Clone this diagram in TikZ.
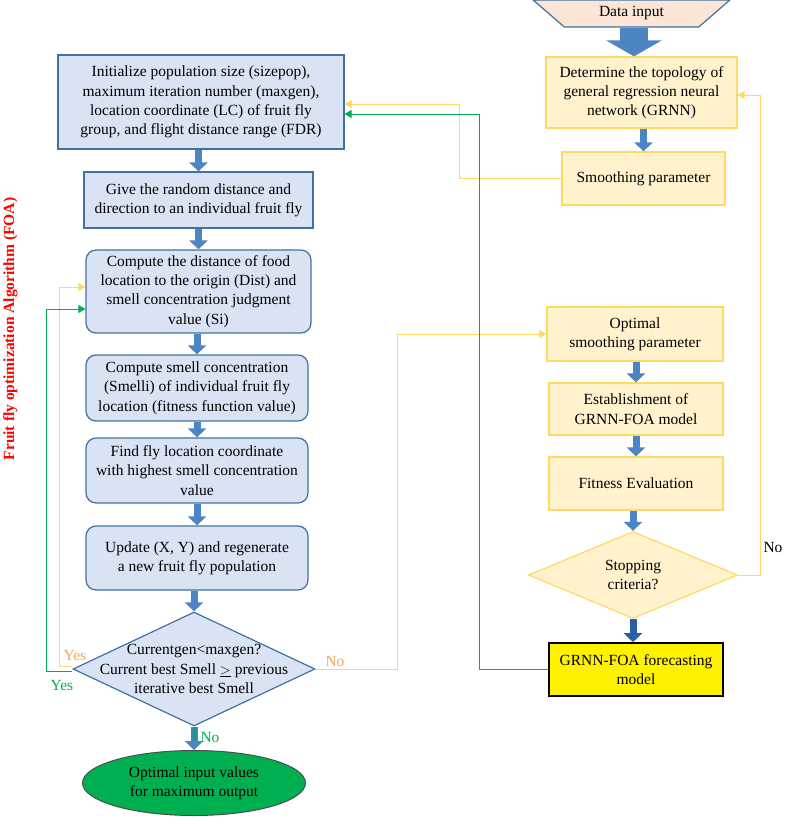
\documentclass[tikz,border=0pt]{standalone}
\usepackage{fontspec}
\setmainfont{Liberation Serif}
\usetikzlibrary{shapes.geometric,arrows.meta,positioning}
\definecolor{boxblue}{RGB}{218,227,243}
\definecolor{edgeblue}{RGB}{65,113,156}
\definecolor{arrblue}{RGB}{76,132,196}
\definecolor{darkarr}{RGB}{40,95,165}
\definecolor{boxyellow}{RGB}{255,242,204}
\definecolor{edgeyellow}{RGB}{255,217,102}
\definecolor{linegreen}{RGB}{0,176,80}
\definecolor{txtorange}{RGB}{244,165,95}
\definecolor{peach}{RGB}{251,229,214}
\tikzset{
    foabox/.style={draw=edgeblue, fill=boxblue, line width=1.2pt, align=center, inner sep=0pt},
    foaround/.style={foabox, rounded corners=10pt},
    grnnbox/.style={draw=edgeyellow, fill=boxyellow, line width=1.2pt, align=center, inner sep=0pt},
    flowarr/.style={line width=7pt, draw=arrblue, -{Triangle[width=18pt,length=9pt]}},
    yline/.style={draw=edgeyellow, line width=0.9pt, -{Triangle[width=8pt,length=7pt]}},
    gline/.style={draw=linegreen, line width=0.9pt, -{Triangle[width=8pt,length=7pt]}},
}

\begin{document}
\begin{tikzpicture}[x=1pt, y=-1pt, font=\fontsize{15.5}{19.3}\selectfont]
\useasboundingbox (0,0) rectangle (784,824);

% left column: fruit fly optimization
\node[rotate=90, text=red, font=\bfseries\fontsize{15.5}{17}\selectfont] (foa) at (10.5,329) {Fruit fly optimization Algorithm (FOA)};
\node[foabox, minimum width=286pt, minimum height=94pt] (init) at (201,102) {Initialize population size (sizepop),\\ maximum iteration number (maxgen),\\ location coordinate (LC) of fruit fly\\ group, and flight distance range (FDR)};
\node[foabox, minimum width=229pt, minimum height=56pt] (give) at (198.5,200) {Give the random distance and\\ direction to an individual fruit fly};
\node[foaround, minimum width=225pt, minimum height=83pt] (cdist) at (198.5,291.5) {Compute the distance of food\\ location to the origin (Dist) and\\ smell concentration judgment\\ value (Si)};
\node[foaround, minimum width=222pt, minimum height=66pt] (csmell) at (197,388) {Compute smell concentration\\ (Smelli) of individual fruit fly\\ location (fitness function value)};
\node[foaround, minimum width=222pt, minimum height=65pt] (find) at (197,470.5) {Find fly location coordinate\\ with highest smell concentration\\ value};
\node[foaround, minimum width=222pt, minimum height=64pt] (update) at (197,558) {Update (X, Y) and regenerate\\ a new fruit fly population};
\node[diamond, draw=edgeblue, fill=boxblue, line width=1.2pt, minimum width=242pt, minimum height=114pt, inner sep=0pt] (cond) at (194,669) {};
\node[align=center] (condtxt) at (cond.center) {Currentgen<maxgen?\\ Current best Smell $\underline{>}$ previous\\ iterative best Smell};
\node[ellipse, draw=black!70, fill=linegreen, line width=1pt, minimum width=223pt, minimum height=65pt, inner sep=0pt, align=center] (best) at (194,783) {Optimal input values\\ for maximum output};

\draw[flowarr] (init.south -| give) -- (give.north);
\draw[flowarr] (give.south -| cdist) -- (cdist.north);
\draw[flowarr] (cdist.south -| csmell) -- (csmell.north);
\draw[flowarr] (csmell.south -| find) -- (find.north);
\draw[flowarr] (find.south -| update) -- (update.north);
\draw[flowarr] (update.south -| cond) -- (cond.north);
\draw[flowarr] (cond.south) -- (best.north);
\draw[linegreen, line width=3pt] (cond.south) -- ([yshift=9pt]best.north);

% right column: GRNN
\node[trapezium, shape border rotate=180, trapezium left angle=42, trapezium right angle=42, trapezium stretches=true, minimum width=197pt, minimum height=27pt, inner sep=0pt, draw=edgeblue, fill=peach, line width=1.2pt] (data) at (631.5,13.5) {Data input};
\node[grnnbox, minimum width=191pt, minimum height=71pt] (topo) at (641.5,92.5) {Determine the topology of\\ general regression neural\\ network (GRNN)};
\node[grnnbox, minimum width=163pt, minimum height=53pt] (smooth) at (643.5,178.5) {Smoothing parameter};
\node[grnnbox, minimum width=176pt, minimum height=54pt] (optsm) at (635,334) {Optimal\\ smoothing parameter};
\node[grnnbox, minimum width=174pt, minimum height=52pt] (estab) at (636,409) {Establishment of\\ GRNN-FOA model};
\node[grnnbox, minimum width=174pt, minimum height=53pt] (fit) at (636,483.5) {Fitness Evaluation};
\node[diamond, draw=edgeyellow, fill=boxyellow, line width=1.2pt, minimum width=209pt, minimum height=87pt, inner sep=0pt] (stop) at (633,575) {};
\node[align=center] (stoptxt) at (stop.center) {Stopping\\ criteria?};
\node[draw=black, fill=yellow, line width=1.6pt, minimum width=174pt, minimum height=53pt, inner sep=0pt, align=center] (model) at (636,669.5) {GRNN-FOA forecasting\\ model};

\draw[line width=28pt, draw=arrblue, -{Triangle[width=55pt,length=16pt]}] (data.south -| 634,0) -- (topo.north -| 634,0);
\draw[flowarr] (topo.south -| smooth) -- (smooth.north);
\draw[flowarr] (optsm.south -| estab) -- (estab.north);
\draw[flowarr] (estab.south -| fit) -- (fit.north);
\draw[flowarr] (fit.south -| stop) -- (stop.north);
\draw[flowarr, draw=darkarr] (stop.south) -- (model.north -| stop);

% feedback lines
\draw[yline] ([yshift=3pt]cond.west) -- ++(-13,0) |- ([yshift=4.5pt]cdist.west);
\draw[gline] ([yshift=-2pt]cond.west) -- ++(-26,0) |- ([yshift=-17.5pt]cdist.west);
\draw[yline] (cond.east) -- ++(82,0) |- (optsm.west);
\draw[yline] (smooth.west) -- ++(-102,0) |- ([yshift=-2pt]init.east);
\draw[gline] (model.west) -- ++(-69,0) |- ([yshift=-12pt]init.east);
\draw[yline] (stop.east) -- ++(22,0) |- ([yshift=-2.5pt]topo.east);

\node[text=txtorange] (yes1) at (75,655) {Yes};
\node[text=linegreen] (yes2) at (62,685) {Yes};
\node[text=txtorange] (no1) at (335,661) {No};
\node[text=linegreen] (no2) at (210,737) {No};
\node (no3) at (773,547) {No};
\end{tikzpicture}
\end{document}
